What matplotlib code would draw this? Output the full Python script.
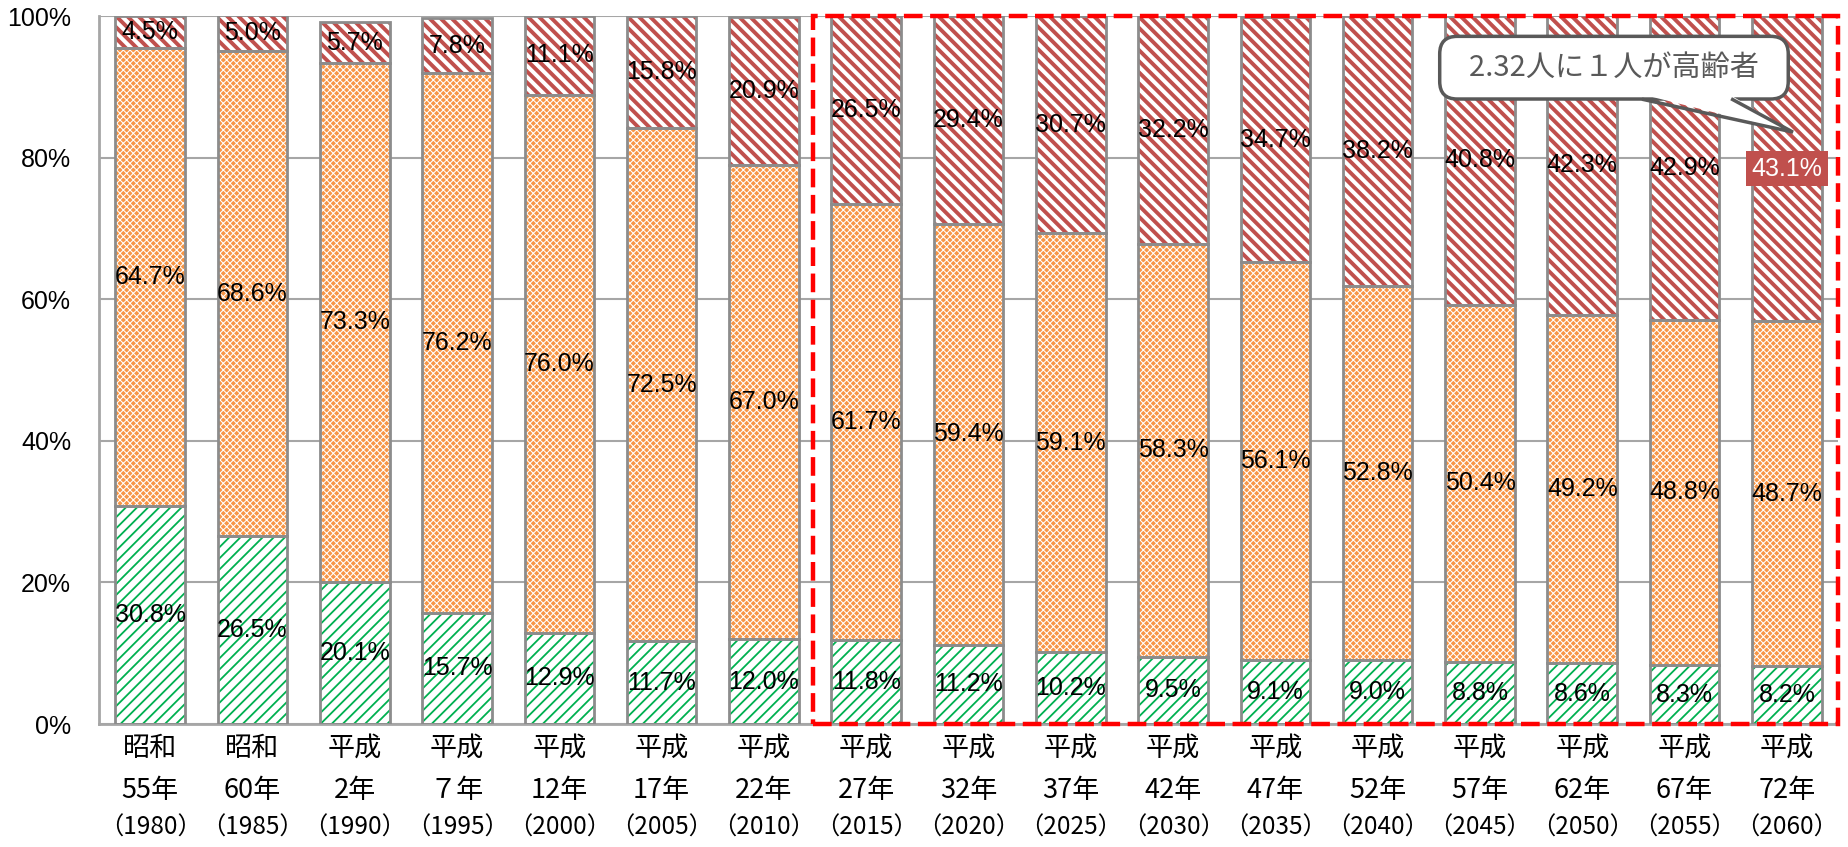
import numpy as np
import matplotlib.pyplot as plt
from matplotlib.patches import Rectangle, Polygon

plt.rcParams['font.family'] = ['Noto Sans CJK JP', 'DejaVu Sans']

# categories (era / year)
eras = ['昭和', '昭和', '平成', '平成', '平成', '平成', '平成', '平成', '平成',
        '平成', '平成', '平成', '平成', '平成', '平成', '平成', '平成']
era_years = ['55年', '60年', '2年', '７年', '12年', '17年', '22年', '27年', '32年',
             '37年', '42年', '47年', '52年', '57年', '62年', '67年', '72年']
years = [1980, 1985, 1990, 1995, 2000, 2005, 2010, 2015, 2020,
         2025, 2030, 2035, 2040, 2045, 2050, 2055, 2060]

# population share (%) : 0-14 / 15-64 / 65+
young = [30.8, 26.5, 20.1, 15.7, 12.9, 11.7, 12.0, 11.8, 11.2,
         10.2, 9.5, 9.1, 9.0, 8.8, 8.6, 8.3, 8.2]
working = [64.7, 68.6, 73.3, 76.2, 76.0, 72.5, 67.0, 61.7, 59.4,
           59.1, 58.3, 56.1, 52.8, 50.4, 49.2, 48.8, 48.7]
elderly = [4.5, 5.0, 5.7, 7.8, 11.1, 15.8, 20.9, 26.5, 29.4,
           30.7, 32.2, 34.7, 38.2, 40.8, 42.3, 42.9, 43.1]

forecast_start = 2015
callout_text = '2.32人に１人が高齢者'

GREEN = '#00B050'
ORANGE = '#F79646'
RED = '#C0504D'
EDGE = '#8C8C8C'
LATIN = ['Liberation Sans', 'DejaVu Sans']

x = np.arange(len(years))
young = np.array(young)
working = np.array(working)
elderly = np.array(elderly)
w = 0.68

fig = plt.figure(figsize=(18.48, 8.47), dpi=100)
ax = fig.add_axes([99 / 1848, 1 - 724 / 847, (1838 - 99) / 1848, (724 - 16) / 847])


def hatched(bottom, height, face, hcolor, hatch, hlw):
    bars = ax.bar(x, height, w, bottom=bottom, color=face, edgecolor=hcolor,
                  hatch=hatch, linewidth=0, zorder=2)
    for p in bars:
        if hasattr(p, 'set_hatch_linewidth'):
            p.set_hatch_linewidth(hlw)
    ax.bar(x, height, w, bottom=bottom, fill=False, edgecolor=EDGE, linewidth=2, zorder=3)


plt.rcParams['hatch.linewidth'] = 1.5
hatched(0, young, 'white', GREEN, '///', 1.3)
hatched(young, working, ORANGE, 'white', 'xxxxx', 0.75)
hatched(young + working, elderly, 'white', RED, '\\\\\\', 2.8)

lab = dict(ha='center', va='center', fontsize=18, family=LATIN, zorder=6)
for i in range(len(x)):
    ax.text(x[i], young[i] / 2, f'{young[i]:.1f}%', **lab)
    ax.text(x[i], young[i] + working[i] / 2, f'{working[i]:.1f}%', **lab)
    top = young[i] + working[i]
    if i == len(x) - 1:
        ax.text(x[i], top + elderly[i] / 2, f'{elderly[i]:.1f}%', color='white',
                bbox=dict(boxstyle='square,pad=0.22', fc=RED, ec='none'), **lab)
    else:
        ax.text(x[i], top + elderly[i] / 2, f'{elderly[i]:.1f}%', **lab)

ax.set_xlim(-0.5, len(x) - 0.5)
ax.set_ylim(0, 100)
ax.set_yticks(np.arange(0, 101, 20))
ax.set_yticklabels([f'{v}%' for v in range(0, 101, 20)], fontsize=18, family=LATIN)
ax.set_xticks(x)
ax.set_xticklabels([f'{e}\n{y}' for e, y in zip(eras, era_years)], fontsize=19.5)
for t in ax.get_xticklabels():
    t.set_linespacing(1.72)
# third line (western year), a little smaller so neighbours don't collide
tr = ax.get_xaxis_transform()
for xi, yr in zip(x, years):
    ax.text(xi, -0.147, f'（{yr}）', transform=tr, ha='center', va='center', fontsize=17.5)
ax.tick_params(axis='x', length=0, pad=8)
ax.tick_params(axis='y', length=0, pad=20)
ax.grid(axis='y', color='#A6A6A6', linewidth=1.5, zorder=0)
ax.set_axisbelow(True)
for s in ['top', 'right']:
    ax.spines[s].set_visible(False)
for s in ['left', 'bottom']:
    ax.spines[s].set_color('#A6A6A6')
    ax.spines[s].set_linewidth(2)

# forecast frame
fi = years.index(forecast_start)
ax.add_patch(Rectangle((fi - 0.52, 0), len(x) - 0.5 - (fi - 0.52), 100, fill=False,
                       edgecolor='#FF0000', linewidth=3.2, linestyle=(0, (4.2, 1.7)),
                       zorder=7, clip_on=False))

# callout
cx, cy = 14.31, 92.7
ax.text(cx, cy, '  ' + callout_text + '  ', ha='center', va='center', fontsize=21,
        color='#595959', zorder=10,
        bbox=dict(boxstyle='round,pad=0.56,rounding_size=0.6', fc='white', ec='#595959', lw=2.5))
base_y = 88.2
tail = [(14.62, base_y + 0.6), (15.45, base_y + 0.6), (16.06, 83.6)]
ax.add_patch(Polygon(tail, closed=True, fc='white', ec='none', zorder=11))
ax.plot([14.6, 16.06, 15.47], [base_y, 83.6, base_y], color='#595959', lw=2.5, zorder=12,
        solid_joinstyle='miter')

fig.savefig('out.png', dpi=100)
